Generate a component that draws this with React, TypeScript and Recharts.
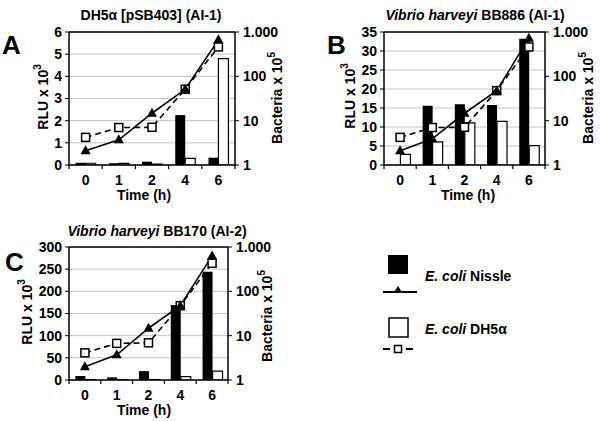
import {
  ComposedChart,
  Bar,
  Line,
  XAxis,
  YAxis,
  CartesianGrid,
  ReferenceLine,
} from "recharts";

// ─── Data ─────────────────────────────────────────────────────────────────────

const times = ["0", "1", "2", "4", "6"];

// Panel A: DH5α [pSB403] (AI-1)
const rluNissleA = [0.1, 0.08, 0.15, 2.25, 0.33];
const rluDh5aA = [0.08, 0.07, 0.04, 0.3, 4.8];
const cfuNissleA = [2.1, 3.7, 14.7, 51, 665];
const cfuDh5aA = [4.2, 7.0, 7.1, 51, 460];

// Panel B: Vibrio harveyi BB886 (AI-1)
const rluNissleB = [0, 15.6, 16.0, 15.8, 33.2];
const rluDh5aB = [2.8, 6.1, 11.1, 11.5, 5.1];
const cfuNissleB = [2.1, 3.9, 14.7, 47.5, 725];
const cfuDh5aB = [4.2, 7.0, 7.1, 47.5, 460];

// Panel C: Vibrio harveyi BB170 (AI-2)
const rluNissleC = [9, 6, 20, 169, 244];
const rluDh5aC = [1, 1, 1, 7.5, 20];
const cfuNissleC = [2.0, 3.7, 14.7, 47.5, 630];
const cfuDh5aC = [4.1, 6.7, 6.9, 47.5, 430];

const ticksA = [0, 1, 2, 3, 4, 5, 6];
const ticksB = [0, 5, 10, 15, 20, 25, 30, 35];
const ticksC = [0, 50, 100, 150, 200, 250, 300];
const bacteriaTicks = [1, 10, 100, 1000];

// ─── Helpers ──────────────────────────────────────────────────────────────────

const FONT = "'Liberation Sans', Arial, sans-serif";
const LW = 60;
const RW = 50;
const MT = 10;
const XH = 40;

const buildRows = (rn: number[], rd: number[], cn: number[], cd: number[]) =>
  times.map((t, i) => ({ time: t, rluN: rn[i], rluD: rd[i], cfuN: cn[i], cfuD: cd[i] }));

const triangleDot = (props: any) => {
  const { cx, cy, index } = props;
  if (cx == null || cy == null) return <g key={`t${index}`} />;
  return (
    <path
      key={`t${index}`}
      d={`M${cx},${cy - 5.5} L${cx + 5},${cy + 3.5} L${cx - 5},${cy + 3.5} Z`}
      fill="#000"
    />
  );
};

const squareDot = (props: any) => {
  const { cx, cy, index } = props;
  if (cx == null || cy == null) return <g key={`s${index}`} />;
  return (
    <rect
      key={`s${index}`}
      x={cx - 4}
      y={cy - 4}
      width={8}
      height={8}
      fill="#fff"
      stroke="#000"
      strokeWidth={1.5}
    />
  );
};

function XTick({ x, y, payload, band }: any) {
  const last = payload.index === times.length - 1;
  return (
    <g>
      <line x1={x - band / 2} y1={y} x2={x - band / 2} y2={y + 4} stroke="#000" strokeWidth={1.2} />
      {last && <line x1={x + band / 2} y1={y} x2={x + band / 2} y2={y + 4} stroke="#000" strokeWidth={1.2} />}
      <text x={x} y={y + 20} textAnchor="middle" fontSize={14} fontWeight="bold" fontFamily={FONT} fill="#000">
        {payload.value}
      </text>
    </g>
  );
}

const tickStyle = { fontSize: 14, fontWeight: "bold", fill: "#000", fontFamily: FONT };

interface PanelProps {
  pl: number;
  pr: number;
  pt: number;
  pb: number;
  rows: ReturnType<typeof buildRows>;
  rluTicks: number[];
}

function Panel({ pl, pr, pt, pb, rows, rluTicks }: PanelProps) {
  const width = pr - pl + LW + RW;
  const height = pb - pt + MT + XH;
  const band = (pr - pl) / times.length;
  const rluMax = rluTicks[rluTicks.length - 1];
  return (
    <div style={{ position: "absolute", left: pl - LW, top: pt - MT }}>
      <ComposedChart
        width={width}
        height={height}
        data={rows}
        margin={{ top: MT, right: 0, bottom: 0, left: 0 }}
        barCategoryGap="20%"
        barGap={0}
      >
        <CartesianGrid yAxisId="left" vertical={false} stroke="#c4c4c4" strokeWidth={1} />
        <XAxis
          dataKey="time"
          height={XH}
          tickLine={false}
          tickSize={0}
          tickMargin={0}
          axisLine={{ stroke: "#000", strokeWidth: 1.5 }}
          tick={<XTick band={band} />}
          interval={0}
        />
        <YAxis
          yAxisId="left"
          width={LW}
          domain={[0, rluMax]}
          ticks={rluTicks}
          interval={0}
          allowDataOverflow
          tick={tickStyle}
          tickSize={4}
          tickMargin={3}
          tickLine={{ stroke: "#000" }}
          axisLine={{ stroke: "#000", strokeWidth: 1.5 }}
        />
        <YAxis
          yAxisId="right"
          orientation="right"
          width={RW}
          scale="log"
          domain={[1, 1000]}
          ticks={bacteriaTicks}
          interval={0}
          allowDataOverflow
          tickFormatter={(v: number) => (v === 1000 ? "1.000" : String(v))}
          tick={tickStyle}
          tickSize={4}
          tickMargin={4}
          tickLine={{ stroke: "#000" }}
          axisLine={{ stroke: "#000", strokeWidth: 1.5 }}
        />
        <ReferenceLine yAxisId="left" y={rluMax} stroke="#000" strokeWidth={1.5} />
        <Bar yAxisId="left" dataKey="rluN" fill="#000" isAnimationActive={false} />
        <Bar yAxisId="left" dataKey="rluD" fill="#fff" stroke="#000" strokeWidth={1.2} isAnimationActive={false} />
        <Line
          yAxisId="right"
          dataKey="cfuD"
          stroke="#000"
          strokeWidth={1.6}
          strokeDasharray="6 4"
          dot={squareDot}
          activeDot={false}
          isAnimationActive={false}
        />
        <Line
          yAxisId="right"
          dataKey="cfuN"
          stroke="#000"
          strokeWidth={1.6}
          dot={triangleDot}
          activeDot={false}
          isAnimationActive={false}
        />
      </ComposedChart>
    </div>
  );
}

// ─── Text overlay ─────────────────────────────────────────────────────────────

function VLabel({ x, y, text, sup }: { x: number; y: number; text: string; sup: string }) {
  return (
    <text
      transform={`translate(${x},${y}) rotate(-90)`}
      textAnchor="middle"
      dominantBaseline="central"
      fontSize={14}
      fontWeight="bold"
      fontFamily={FONT}
      fill="#000"
    >
      {text}
      <tspan fontSize={10} dy={-6}>
        {sup}
      </tspan>
    </text>
  );
}

function Overlay() {
  const t = { fontSize: 14, fontWeight: "bold", fontFamily: FONT, fill: "#000" } as const;
  const big = { fontSize: 26, fontWeight: "bold", fontFamily: FONT, fill: "#000" } as const;
  return (
    <svg width={600} height={421} style={{ position: "absolute", left: 0, top: 0, pointerEvents: "none" }}>
      {/* Panel A */}
      <text x={2} y={54} {...big}>A</text>
      <text x={151} y={20} textAnchor="middle" {...t}>DH5α [pSB403] (AI-1)</text>
      <VLabel x={43} y={97} text="RLU x 10" sup="3" />
      <VLabel x={277} y={98} text="Bacteria x 10" sup="5" />
      <text x={144} y={200} textAnchor="middle" {...t}>Time (h)</text>

      {/* Panel B */}
      <text x={327} y={54} {...big}>B</text>
      <text x={475} y={20} textAnchor="middle" {...t}>
        <tspan fontStyle="italic">Vibrio harveyi</tspan> BB886 (AI-1)
      </text>
      <VLabel x={350} y={96} text="RLU x 10" sup="3" />
      <VLabel x={588} y={98} text="Bacteria x 10" sup="5" />
      <text x={468} y={200} textAnchor="middle" {...t}>Time (h)</text>

      {/* Panel C */}
      <text x={5} y={271} {...big}>C</text>
      <text x={157} y={236} textAnchor="middle" {...t}>
        <tspan fontStyle="italic">Vibrio harveyi</tspan> BB170 (AI-2)
      </text>
      <VLabel x={27} y={312} text="RLU x 10" sup="3" />
      <VLabel x={267} y={316} text="Bacteria x 10" sup="5" />
      <text x={144} y={415} textAnchor="middle" {...t}>Time (h)</text>

      {/* Legend */}
      <rect x={388} y={255} width={20} height={19} fill="#000" />
      <text x={425} y={281} {...t}>
        <tspan fontStyle="italic">E. coli</tspan> Nissle
      </text>
      <line x1={383} y1={292} x2={417} y2={292} stroke="#000" strokeWidth={2} />
      <path d="M398,286 L402.5,293 L393.5,293 Z" fill="#000" />
      <rect x={389} y={318} width={19} height={19} fill="#fff" stroke="#000" strokeWidth={1.5} />
      <text x={425} y={334} {...t}>
        <tspan fontStyle="italic">E. coli</tspan> DH5α
      </text>
      <line x1={383} y1={349} x2={390} y2={349} stroke="#000" strokeWidth={2} />
      <rect x={394.5} y={345.5} width={7} height={7} fill="#fff" stroke="#000" strokeWidth={1.5} />
      <line x1={406} y1={349} x2={413} y2={349} stroke="#000" strokeWidth={2} />
    </svg>
  );
}

export default function App() {
  return (
    <div style={{ position: "absolute", left: 0, top: 0, width: 600, height: 421, background: "#fff" }}>
      <Panel pl={69} pr={235} pt={32} pb={165} rows={buildRows(rluNissleA, rluDh5aA, cfuNissleA, cfuDh5aA)} rluTicks={ticksA} />
      <Panel pl={384} pr={545} pt={32} pb={165} rows={buildRows(rluNissleB, rluDh5aB, cfuNissleB, cfuDh5aB)} rluTicks={ticksB} />
      <Panel pl={69} pr={228} pt={247} pb={380} rows={buildRows(rluNissleC, rluDh5aC, cfuNissleC, cfuDh5aC)} rluTicks={ticksC} />
      <Overlay />
    </div>
  );
}
